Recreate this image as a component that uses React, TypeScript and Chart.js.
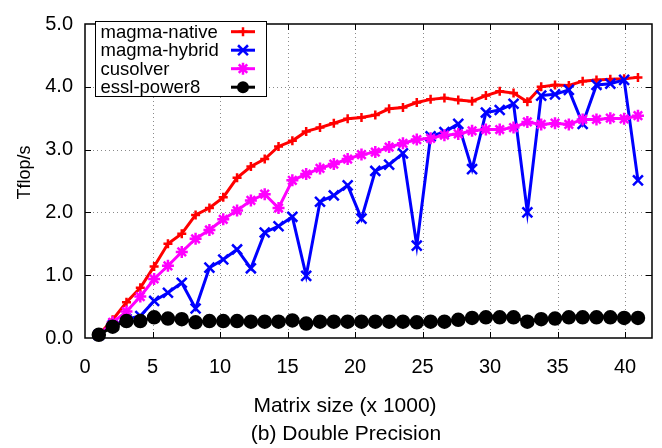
import React, { useEffect, useRef } from 'react';
import { Chart, registerables } from 'chart.js';

Chart.register(...registerables);

// Matrix size (x 1000): multiples of 1024
const matrixSizes = [
  1.024, 2.048, 3.072, 4.096, 5.12, 6.144, 7.168, 8.192, 9.216, 10.24,
  11.264, 12.288, 13.312, 14.336, 15.36, 16.384, 17.408, 18.432, 19.456, 20.48,
  21.504, 22.528, 23.552, 24.576, 25.6, 26.624, 27.648, 28.672, 29.696, 30.72,
  31.744, 32.768, 33.792, 34.816, 35.84, 36.864, 37.888, 38.912, 39.936, 40.96,
];

const magmaNative = [
  0.05, 0.29, 0.57, 0.8, 1.14, 1.5, 1.66, 1.96, 2.07, 2.24,
  2.55, 2.73, 2.85, 3.05, 3.14, 3.29, 3.35, 3.42, 3.49, 3.51,
  3.55, 3.65, 3.67, 3.75, 3.8, 3.82, 3.79, 3.77, 3.86, 3.93,
  3.9, 3.76, 4.0, 4.03, 4.02, 4.09, 4.11, 4.12, 4.13, 4.15,
];

const magmaHybrid = [
  0.05, 0.2, 0.3, 0.35, 0.59, 0.72, 0.88, 0.47, 1.12, 1.25,
  1.41, 1.11, 1.68, 1.78, 1.93, 0.99, 2.17, 2.27, 2.43, 1.9,
  2.66, 2.76, 2.94, 1.47, 3.21, 3.28, 3.41, 2.69, 3.59, 3.63,
  3.73, 2.0, 3.86, 3.88, 3.95, 3.41, 4.03, 4.05, 4.11, 2.51,
];

const cusolver = [
  0.05, 0.25, 0.42, 0.66, 0.94, 1.15, 1.37, 1.58, 1.72, 1.89,
  2.03, 2.19, 2.29, 2.07, 2.51, 2.61, 2.7, 2.77, 2.85, 2.92,
  2.96, 3.04, 3.1, 3.16, 3.18, 3.23, 3.25, 3.3, 3.32, 3.32,
  3.35, 3.44, 3.4, 3.42, 3.4, 3.48, 3.48, 3.5, 3.49, 3.54,
];

const esslPower8 = [
  0.05, 0.18, 0.27, 0.27, 0.33, 0.31, 0.3, 0.25, 0.27, 0.27,
  0.27, 0.26, 0.26, 0.26, 0.28, 0.23, 0.26, 0.26, 0.26, 0.26,
  0.26, 0.26, 0.26, 0.25, 0.26, 0.26, 0.29, 0.32, 0.33, 0.33,
  0.33, 0.26, 0.3, 0.31, 0.33, 0.33, 0.33, 0.33, 0.32, 0.32,
];

const seriesLabels = ['magma-native', 'magma-hybrid', 'cusolver', 'essl-power8'];
const xTickValues = [0, 5, 10, 15, 20, 25, 30, 35, 40];
const yTickValues = [0, 1, 2, 3, 4, 5];
const xTitle = 'Matrix size (x 1000)';
const yTitle = 'Tflop/s';
const caption = '(b) Double Precision';

const FONT = '"Liberation Sans", Arial, Helvetica, sans-serif';

type Style = 'cross' | 'crossRot' | 'star' | 'circle';

function drawMarker(ctx: CanvasRenderingContext2D, style: Style, x: number, y: number, r: number, color: string, lw: number) {
  ctx.save();
  ctx.strokeStyle = color;
  ctx.fillStyle = color;
  ctx.lineWidth = lw;
  ctx.setLineDash([]);
  const d = r * Math.SQRT1_2;
  ctx.beginPath();
  if (style === 'circle') {
    ctx.arc(x, y, r, 0, Math.PI * 2);
    ctx.fill();
  } else {
    if (style === 'cross' || style === 'star') {
      ctx.moveTo(x - r, y); ctx.lineTo(x + r, y);
      ctx.moveTo(x, y - r); ctx.lineTo(x, y + r);
    }
    if (style === 'crossRot' || style === 'star') {
      ctx.moveTo(x - d, y - d); ctx.lineTo(x + d, y + d);
      ctx.moveTo(x - d, y + d); ctx.lineTo(x + d, y - d);
    }
    ctx.stroke();
  }
  ctx.restore();
}

export default function App() {
  const ref = useRef<HTMLCanvasElement>(null);

  useEffect(() => {
    document.body.style.margin = '0';
    const canvas = ref.current;
    if (!canvas) return;

    const defs = [
      { label: seriesLabels[0], values: magmaNative, color: '#ff0000', style: 'cross' as Style, r: 4.5, lw: 2.5, order: 3 },
      { label: seriesLabels[1], values: magmaHybrid, color: '#0000ff', style: 'crossRot' as Style, r: 7, lw: 2.5, order: 2 },
      { label: seriesLabels[2], values: cusolver, color: '#ff00ff', style: 'star' as Style, r: 6, lw: 2.5, order: 1 },
      { label: seriesLabels[3], values: esslPower8, color: '#000000', style: 'circle' as Style, r: 6, lw: 2.5, order: 0 },
    ];

    const gnuplotPlugin = {
      id: 'gnuplotDecor',
      beforeDatasetsDraw(chart: any) {
        const { ctx, chartArea, scales } = chart;
        const { left, right, top, bottom } = chartArea;
        const xs = scales.x;
        const ys = scales.y;
        ctx.save();
        ctx.strokeStyle = '#8a8a8a';
        ctx.lineWidth = 1;
        ctx.setLineDash([1, 3]);
        xTickValues.forEach((v) => {
          if (v <= xs.min || v >= xs.max) return;
          const px = Math.round(xs.getPixelForValue(v)) + 0.5;
          ctx.beginPath(); ctx.moveTo(px, bottom); ctx.lineTo(px, top); ctx.stroke();
        });
        yTickValues.forEach((v) => {
          if (v <= ys.min || v >= ys.max) return;
          const py = Math.round(ys.getPixelForValue(v)) + 0.5;
          ctx.beginPath(); ctx.moveTo(left, py); ctx.lineTo(right, py); ctx.stroke();
        });
        ctx.restore();
      },
      afterDatasetsDraw(chart: any) {
        const { ctx, chartArea, scales } = chart;
        const { left, right, top, bottom } = chartArea;
        const xs = scales.x;
        const ys = scales.y;
        ctx.save();
        ctx.setLineDash([]);
        ctx.strokeStyle = '#000';
        ctx.lineWidth = 1;
        const tl = 6;
        xTickValues.forEach((v) => {
          if (v <= xs.min || v >= xs.max) return;
          const px = Math.round(xs.getPixelForValue(v)) + 0.5;
          ctx.beginPath();
          ctx.moveTo(px, bottom); ctx.lineTo(px, bottom - tl);
          ctx.moveTo(px, top); ctx.lineTo(px, top + tl);
          ctx.stroke();
        });
        yTickValues.forEach((v) => {
          if (v <= ys.min || v >= ys.max) return;
          const py = Math.round(ys.getPixelForValue(v)) + 0.5;
          ctx.beginPath();
          ctx.moveTo(left, py); ctx.lineTo(left + tl, py);
          ctx.moveTo(right, py); ctx.lineTo(right - tl, py);
          ctx.stroke();
        });
        ctx.lineWidth = 1.5;
        ctx.strokeRect(left, top, right - left, bottom - top);
        ctx.restore();
      },
      afterDraw(chart: any) {
        const { ctx } = chart;
        ctx.save();
        // legend box
        const bx = 95.5, by = 21.5, bw = 171, bh = 75;
        ctx.fillStyle = '#fff';
        ctx.fillRect(bx, by, bw, bh);
        ctx.strokeStyle = '#000';
        ctx.lineWidth = 1;
        ctx.strokeRect(bx, by, bw, bh);
        ctx.font = `18.5px ${FONT}`;
        ctx.textAlign = 'left';
        ctx.textBaseline = 'alphabetic';
        defs.forEach((d, i) => {
          const base = 37.5 + i * 18.5;
          const ly = base - 5.8;
          ctx.fillStyle = '#000';
          ctx.fillText(d.label, 100.5, base);
          ctx.strokeStyle = d.color;
          ctx.lineWidth = 3;
          ctx.beginPath(); ctx.moveTo(231, ly); ctx.lineTo(255, ly); ctx.stroke();
          drawMarker(ctx, d.style, 243, ly, d.r, d.color, d.lw);
        });
        // titles
        ctx.fillStyle = '#000';
        ctx.textAlign = 'center';
        ctx.font = `21px ${FONT}`;
        ctx.fillText(xTitle, 345, 412);
        ctx.fillText(caption, 346, 440);
        ctx.save();
        ctx.translate(30, 172.5);
        ctx.rotate(-Math.PI / 2);
        ctx.font = `18px ${FONT}`;
        ctx.fillText(yTitle, 0, 0);
        ctx.restore();
        ctx.restore();
      },
    };

    const chart = new Chart(canvas, {
      type: 'line',
      data: {
        datasets: defs.map((d) => ({
          label: d.label,
          data: d.values.map((v, i) => ({ x: matrixSizes[i], y: v })),
          borderColor: d.color,
          backgroundColor: d.color,
          borderWidth: 3,
          pointStyle: d.style,
          pointRadius: d.r,
          pointBorderWidth: d.lw,
          pointBackgroundColor: d.color,
          pointBorderColor: d.color,
          tension: 0,
          clip: false as any,
          order: d.order,
        })),
      },
      options: {
        animation: false,
        responsive: false,
        maintainAspectRatio: false,
        layout: { padding: { top: 15, right: 10, bottom: 0, left: 0 } },
        plugins: {
          legend: { display: false },
          tooltip: { enabled: false },
          title: { display: false },
        },
        scales: {
          x: {
            type: 'linear',
            min: 0,
            max: 42,
            grid: { display: false, drawTicks: false },
            border: { display: false },
            ticks: {
              stepSize: 5,
              includeBounds: false,
              padding: 17,
              color: '#000',
              font: { family: FONT, size: 20 },
              maxRotation: 0,
            },
            afterBuildTicks: (scale: any) => {
              scale.ticks = xTickValues.map((v) => ({ value: v }));
            },
            afterFit: (scale: any) => {
              scale.height = 110;
            },
          },
          y: {
            type: 'linear',
            min: 0,
            max: 5,
            grid: { display: false, drawTicks: false },
            border: { display: false },
            ticks: {
              stepSize: 1,
              padding: 12,
              color: '#000',
              font: { family: FONT, size: 20 },
              callback: (v: any) => Number(v).toFixed(1),
            },
            afterBuildTicks: (scale: any) => {
              scale.ticks = yTickValues.map((v) => ({ value: v }));
            },
            afterFit: (scale: any) => {
              scale.width = 85;
            },
          },
        },
      },
      plugins: [gnuplotPlugin],
    });

    return () => chart.destroy();
  }, []);

  return (
    <div style={{ width: 662, height: 448 }}>
      <canvas ref={ref} width={662} height={448} style={{ display: 'block', width: 662, height: 448 }} />
    </div>
  );
}
